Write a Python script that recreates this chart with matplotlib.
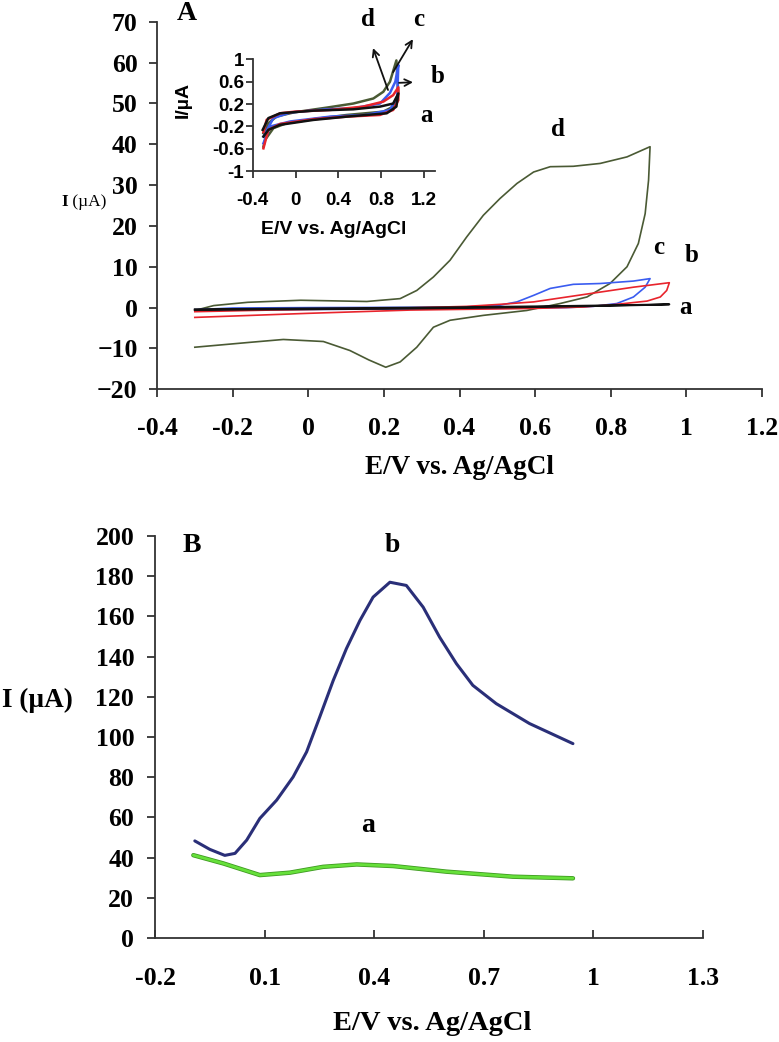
import matplotlib
matplotlib.use("Agg")
import matplotlib.pyplot as plt

W, H = 779, 1042
SERIF = ["Liberation Serif", "DejaVu Serif"]
SANS = ["Liberation Sans", "DejaVu Sans"]

# ---------------- Panel A: CV data ----------------
d_x = [-0.3, -0.25, -0.16, -0.02, 0.155, 0.243, 0.287, 0.331, 0.375, 0.419, 0.463, 0.507, 0.552, 0.596, 0.640, 0.701, 0.772, 0.843, 0.904,
       0.900, 0.891, 0.873, 0.843, 0.798, 0.737, 0.666, 0.578, 0.463, 0.375, 0.331, 0.287, 0.243, 0.205, 0.16, 0.11, 0.04, -0.066, -0.154, -0.3]
d_y = [-0.7, 0.5, 1.3, 1.8, 1.5, 2.2, 4.2, 7.5, 11.6, 17.3, 22.6, 26.7, 30.4, 33.2, 34.5, 34.6, 35.3, 36.9, 39.4,
       31.2, 23.0, 15.7, 10.0, 5.9, 2.6, 1.0, -0.7, -1.9, -3.1, -4.8, -9.7, -13.3, -14.6, -12.8, -10.5, -8.3, -7.8, -8.5, -9.7]

c_x = [-0.3, -0.2, 0.0, 0.2, 0.4, 0.507, 0.552, 0.596, 0.640, 0.701, 0.772, 0.860, 0.904,
       0.891, 0.860, 0.816, 0.754, 0.683, 0.5, 0.2, 0.0, -0.2, -0.3]
c_y = [-0.5, -0.1, 0.0, 0.05, 0.1, 0.6, 1.4, 3.0, 4.7, 5.7, 5.9, 6.5, 7.1,
       5.0, 2.6, 1.0, 0.3, 0.0, -0.2, -0.35, -0.45, -0.55, -0.7]

b_x = [-0.3, -0.1, 0.1, 0.27, 0.419, 0.507, 0.596, 0.684, 0.772, 0.860, 0.955,
       0.948, 0.931, 0.896, 0.816, 0.728, 0.596, 0.27, 0.0, -0.3]
b_y = [-1.0, -0.6, -0.3, -0.05, 0.3, 0.8, 1.4, 2.6, 3.8, 5.0, 6.1,
       4.2, 2.6, 1.6, 0.8, 0.15, -0.2, -0.6, -1.4, -2.4]

a_x = [-0.3, 0.0, 0.3, 0.6, 0.8, 0.955, 0.9, 0.7, 0.5, 0.2, -0.1, -0.3]
a_y = [-0.4, -0.2, 0.0, 0.3, 0.55, 0.8, 0.65, 0.3, 0.0, -0.3, -0.45, -0.6]

# ---------------- Inset data ----------------
id_x = [-0.3, -0.254, -0.176, -0.01, 0.29, 0.538, 0.725, 0.818, 0.88, 0.94,
        0.958, 0.91, 0.818, 0.476, 0.165, -0.083, -0.207, -0.285, -0.3]
id_y = [-0.32, -0.14, -0.02, 0.054, 0.137, 0.21, 0.30, 0.42, 0.6, 0.98,
        0.39, 0.155, 0.065, 0.006, -0.07, -0.14, -0.23, -0.44, -0.56]

ic_x = [-0.3, -0.207, -0.05, 0.29, 0.538, 0.787, 0.88, 0.93, 0.958,
        0.948, 0.88, 0.66, 0.32, -0.05, -0.238, -0.3]
ic_y = [-0.38, -0.05, 0.05, 0.107, 0.125, 0.21, 0.4, 0.6, 0.9,
        0.33, 0.095, 0.006, -0.024, -0.11, -0.2, -0.5]

ib_x = [-0.3, -0.27, -0.145, -0.01, 0.32, 0.63, 0.818, 0.91, 0.958,
        0.958, 0.91, 0.787, 0.476, 0.165, -0.145, -0.254, -0.3]
ib_y = [-0.3, -0.08, 0.036, 0.065, 0.095, 0.155, 0.244, 0.36, 0.5,
        0.27, 0.095, 0.006, -0.024, -0.07, -0.155, -0.26, -0.59]

ia_x = [-0.307, -0.254, -0.145, 0.165, 0.538, 0.787, 0.91, 0.958,
        0.94, 0.85, 0.476, 0.165, -0.145, -0.254, -0.3]
ia_y = [-0.26, -0.05, 0.036, 0.083, 0.107, 0.155, 0.21, 0.39,
        0.155, 0.036, -0.024, -0.083, -0.17, -0.26, -0.38]

# ---------------- Panel B data ----------------
Bb_x = [-0.091, -0.050, -0.009, 0.019, 0.051, 0.087, 0.133, 0.178, 0.215, 0.251, 0.288, 0.324, 0.361, 0.397,
        0.443, 0.488, 0.534, 0.579, 0.625, 0.670, 0.734, 0.825, 0.944]
Bb_y = [48.3, 44.1, 41.1, 42.1, 48.7, 59.5, 68.6, 80.1, 92.6, 110.0, 128.2, 144.0, 158.0, 169.6,
        177.0, 175.4, 164.6, 149.7, 136.5, 125.7, 116.6, 106.7, 96.7]
Ba_x = [-0.095, -0.013, 0.087, 0.169, 0.260, 0.352, 0.452, 0.598, 0.780, 0.944]
Ba_y = [41.2, 37.1, 31.3, 32.5, 35.4, 36.6, 35.8, 33.0, 30.5, 29.7]

A_xticks = [-0.4, -0.2, 0, 0.2, 0.4, 0.6, 0.8, 1, 1.2]
A_xticklabels = ["-0.4", "-0.2", "0", "0.2", "0.4", "0.6", "0.8", "1", "1.2"]
A_yticks = [-20, -10, 0, 10, 20, 30, 40, 50, 60, 70]
In_xticks = [-0.4, 0, 0.4, 0.8, 1.2]
In_xticklabels = ["-0.4", "0", "0.4", "0.8", "1.2"]
In_yticks = [-1, -0.6, -0.2, 0.2, 0.6, 1]
In_yticklabels = ["-1", "-0.6", "-0.2", "0.2", "0.6", "1"]
B_xticks = [-0.2, 0.1, 0.4, 0.7, 1.0, 1.3]
B_xticklabels = ["-0.2", "0.1", "0.4", "0.7", "1", "1.3"]
B_yticks = [0, 20, 40, 60, 80, 100, 120, 140, 160, 180, 200]

OLIVE = "#4a5a34"
BLUE = "#3a5cf0"
RED = "#e8242c"
BLACK = "#111111"
SPINE = "#333333"

fig = plt.figure(figsize=(W / 100, H / 100), dpi=100)


def px(x, y):
    return x / W, 1 - y / H


def style_axes(ax, fs, family, xdir="out", ypad=9, xpad=16):
    for s in ["top", "right"]:
        ax.spines[s].set_visible(False)
    for s in ["left", "bottom"]:
        ax.spines[s].set_color(SPINE)
        ax.spines[s].set_linewidth(1.3)
    ax.tick_params(axis="y", direction="out", length=6, width=1.3, color=SPINE, pad=ypad)
    ax.tick_params(axis="x", direction=xdir, length=6, width=1.3, color=SPINE, pad=xpad)
    for lab in ax.get_xticklabels() + ax.get_yticklabels():
        lab.set_fontfamily(family)
        lab.set_fontweight("bold")
        lab.set_fontsize(fs)


# ---------------- Panel A ----------------
axA = fig.add_axes([157 / W, 1 - 389.3 / H, (762 - 157) / W, (389.3 - 21.7) / H])
axA.plot(d_x, d_y, color=OLIVE, lw=1.2)
axA.plot(c_x, c_y, color=BLUE, lw=1.2)
axA.plot(b_x, b_y, color=RED, lw=1.2)
axA.plot(a_x, a_y, color=BLACK, lw=1.4)
axA.set_xlim(-0.4, 1.2)
axA.set_ylim(-20, 70)
axA.set_xticks(A_xticks)
axA.set_xticklabels(A_xticklabels)
axA.set_yticks(A_yticks)
style_axes(axA, 18.5, SERIF, xdir="out", ypad=8, xpad=14)

fig.text(*px(68, 202), "I", fontfamily=SERIF, fontweight="bold", fontsize=12.5, ha="right", va="center")
fig.text(*px(68, 202), " (µA)", fontfamily=SERIF, fontsize=12.5, ha="left", va="center")
fig.text(*px(459, 468), "E/V vs. Ag/AgCl", fontfamily=SERIF, fontweight="bold", fontsize=19.5, ha="center", va="center")
fig.text(*px(187, 14), "A", fontfamily=SERIF, fontweight="bold", fontsize=20, ha="center", va="center")
for lab, (x, y) in {"d": (558, 130), "c": (659, 247), "b": (692, 256), "a": (685, 307)}.items():
    fig.text(*px(x, y), lab, fontfamily=SERIF, fontweight="bold", fontsize=18, ha="center", va="center")

# ---------------- Inset ----------------
axI = fig.add_axes([252.7 / W, 1 - 171.3 / H, 182.3 / W, 112 / H])
axI.plot(id_x, id_y, color=OLIVE, lw=1.8)
axI.plot(ic_x, ic_y, color=BLUE, lw=1.8)
axI.plot(ib_x, ib_y, color=RED, lw=1.8)
axI.plot(ia_x, ia_y, color=BLACK, lw=1.8)
axI.set_xlim(-0.4, 1.3)
axI.set_ylim(-1, 1)
axI.set_xticks(In_xticks)
axI.set_xticklabels(In_xticklabels)
axI.set_yticks(In_yticks)
axI.set_yticklabels(In_yticklabels)
axI.patch.set_alpha(0)
style_axes(axI, 13.5, SANS, xdir="out", ypad=1, xpad=10)
axI.tick_params(length=5)
fig.text(*px(183, 100), "I/µA", fontfamily=SANS, fontweight="bold", fontsize=14, rotation=90, ha="center", va="center")
fig.text(*px(334, 230), "E/V vs. Ag/AgCl", fontfamily=SANS, fontweight="bold", fontsize=14, ha="center", va="center")

arrows = [((0.862, 0.452), (0.722, 1.20)), ((0.909, 0.77), (1.094, 1.36)), ((0.965, 0.58), (1.095, 0.59))]
for (tx, ty), (hx, hy) in arrows:
    axI.annotate("", xy=(hx, hy), xytext=(tx, ty), xycoords="data",
                 arrowprops=dict(arrowstyle="->", color=BLACK, lw=1.3, shrinkA=0, shrinkB=0,
                                 mutation_scale=12), annotation_clip=False)
for lab, (x, y) in {"d": (368, 20), "c": (419, 20), "b": (438, 77), "a": (427, 115)}.items():
    fig.text(*px(x, y), lab, fontfamily=SERIF, fontweight="bold", fontsize=18, ha="center", va="center")

# ---------------- Panel B ----------------
axB = fig.add_axes([155 / W, 1 - 938 / H, (703 - 155) / W, (938 - 536) / H])
axB.plot(Ba_x, Ba_y, color="#3f9a22", lw=3.2, solid_capstyle="round")
axB.plot(Ba_x, Ba_y, color="#66e03a", lw=2.0, solid_capstyle="round")
axB.plot(Bb_x, Bb_y, color="#2a2f78", lw=2.2, solid_capstyle="round")
axB.set_xlim(-0.2, 1.3)
axB.set_ylim(0, 200)
axB.set_xticks(B_xticks)
axB.set_xticklabels(B_xticklabels)
axB.set_yticks(B_yticks)
style_axes(axB, 18.5, SERIF, xdir="in", ypad=9, xpad=21)

fig.text(*px(37, 700), "I (µA)", fontfamily=SERIF, fontweight="bold", fontsize=19.5, ha="center", va="center")
fig.text(*px(432, 1024), "E/V vs. Ag/AgCl", fontfamily=SERIF, fontweight="bold", fontsize=20.5, ha="center", va="center")
fig.text(*px(192, 546), "B", fontfamily=SERIF, fontweight="bold", fontsize=20, ha="center", va="center")
fig.text(*px(392, 545), "b", fontfamily=SERIF, fontweight="bold", fontsize=20, ha="center", va="center")
fig.text(*px(368, 826), "a", fontfamily=SERIF, fontweight="bold", fontsize=20, ha="center", va="center")

fig.savefig("out.png", dpi=100)
